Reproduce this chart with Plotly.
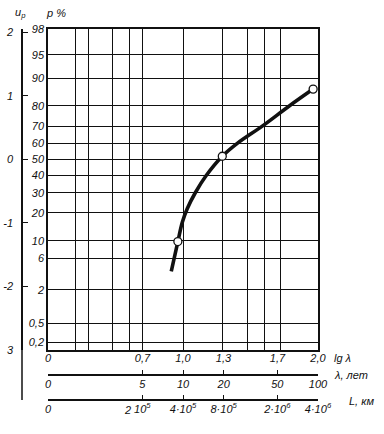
import math
from statistics import NormalDist
import plotly.graph_objects as go

# ---- data ----
p_ticks = [98, 95, 90, 80, 70, 60, 50, 40, 30, 20, 10, 6, 2, 0.5, 0.2]
p_labels = ["98", "95", "90", "80", "70", "60", "50", "40", "30", "20", "10", "6", "2", "0,5", "0,2"]
u_ticks = [2, 1, 0, -1, -2, -3]
u_labels = ["2", "1", "0", "-1", "-2", "3"]
lg_ticks = [0, 0.7, 1.0, 1.3, 1.7, 2.0]
lg_labels = ["0", "0,7", "1,0", "1,3", "1,7", "2,0"]
lg_grid = [0.2, 0.3, 0.48, 0.6, 0.7, 1.0, 1.29, 1.48, 1.6, 1.72]
lam_ticks = [5, 10, 20, 50, 100]
lam_labels = ["5", "10", "20", "50", "100"]
L_labels = ["10<sup>5</sup>", "4·10<sup>5</sup>", "8·10<sup>5</sup>", "2·10<sup>6</sup>", "4·10<sup>6</sup>"]
L_extra_lam = 4
L_extra_label = "2"
curve_lg = [0.913, 0.962, 0.995, 1.032, 1.091, 1.172, 1.291, 1.402, 1.587, 1.787, 1.964]
curve_p = [3.9, 9.8, 16.1, 22, 30, 40, 52, 60, 70, 80, 86.6]
obs_lg = [0.962, 1.291, 1.964]
obs_p = [9.8, 52, 86.6]

nd = NormalDist()


def probit(p):
    return nd.inv_cdf(p / 100.0)


W, H = 384, 434
INK = "#111111"
FONT = dict(family="Liberation Sans, Arial, sans-serif", size=11, color=INK)


def it(s):
    return "<i>" + s + "</i>"


x0, x1 = 48 / W, 318 / W
y0, y1 = 1 - 350 / H, 1 - 29 / H
yr = [-3, probit(98)]

fig = go.Figure()
fig.add_trace(go.Scatter(
    x=curve_lg, y=[probit(p) for p in curve_p], mode="lines",
    line=dict(color=INK, width=3.6, shape="spline", smoothing=1.0),
    showlegend=False, hoverinfo="skip"))
fig.add_trace(go.Scatter(
    x=obs_lg, y=[probit(p) for p in obs_p], mode="markers",
    marker=dict(size=8, color="white", line=dict(color=INK, width=1.3)),
    showlegend=False, hoverinfo="skip"))

lam_lg = [math.log10(v) for v in lam_ticks]

fig.update_layout(
    width=W, height=H, margin=dict(l=0, r=0, t=0, b=0, autoexpand=False),
    paper_bgcolor="white", plot_bgcolor="white", font=FONT,
    xaxis=dict(domain=[x0, x1], range=[0, 2], anchor="y", automargin=False,
               tickmode="array", tickvals=lg_ticks, ticktext=[it(s) for s in lg_labels],
               showgrid=False, zeroline=False, showline=True, mirror=True,
               linecolor=INK, linewidth=1.5, ticks="", ticklabelstandoff=-3,
               minor=dict(tickmode="array", tickvals=lg_grid, showgrid=True,
                          gridcolor=INK, gridwidth=1, ticks="")),
    yaxis=dict(domain=[y0, y1], range=yr, anchor="x", automargin=False,
               tickmode="array", tickvals=[probit(p) for p in p_ticks],
               ticktext=[it(s) for s in p_labels],
               showgrid=True, gridcolor=INK, gridwidth=1, zeroline=False,
               showline=True, mirror=True, linecolor=INK, linewidth=1.5, ticks=""),
    yaxis2=dict(overlaying="y", anchor="free", position=22 / W, side="left",
                range=yr, tickmode="array", tickvals=u_ticks, automargin=False,
                ticktext=[it(s) for s in u_labels],
                showgrid=False, zeroline=False, showline=True, linecolor=INK,
                linewidth=1.5, ticks="inside", ticklen=5, tickcolor=INK,
                ticklabelstandoff=6),
    xaxis2=dict(overlaying="x", anchor="free", position=1 - 375 / H, side="bottom",
                range=[0, 2], tickmode="array", tickvals=[0] + lam_lg, automargin=False,
                ticktext=[it("0")] + [it(s) for s in lam_labels],
                showgrid=False, zeroline=False, showline=True, linecolor=INK,
                linewidth=1.5, ticks="inside", ticklen=4, tickcolor=INK,
                ticklabelstandoff=-1),
    xaxis3=dict(overlaying="x", anchor="free", position=1 - 400 / H, side="bottom",
                range=[0, 2], tickmode="array", tickvals=[0] + lam_lg, automargin=False,
                ticktext=[it("0")] + [it(s) for s in L_labels],
                showgrid=False, zeroline=False, showline=True, linecolor=INK,
                linewidth=1.5, ticks="inside", ticklen=4, tickcolor=INK,
                ticklabelstandoff=-1),
)

# dummy traces so overlay axes render
fig.add_trace(go.Scatter(x=[None], y=[None], yaxis="y2", showlegend=False))
fig.add_trace(go.Scatter(x=[None], y=[None], xaxis="x2", showlegend=False))
fig.add_trace(go.Scatter(x=[None], y=[None], xaxis="x3", showlegend=False))

# extension of the u_p scale line below the chart
fig.add_shape(type="line", xref="paper", yref="paper",
              x0=22 / W, x1=22 / W, y0=y0, y1=1 - 400 / H,
              line=dict(color=INK, width=1.5))

ann = [
    dict(text=it("lg λ"), x=332 / W, y=1 - 358 / H, xanchor="left"),
    dict(text=it("λ, лет"), x=332 / W, y=1 - 375 / H, xanchor="left"),
    dict(text=it("L, км"), x=347 / W, y=1 - 401 / H, xanchor="left"),
    dict(text=it("u<sub>p</sub>"), x=20 / W, y=1 - 13 / H, xanchor="center"),
    dict(text=it("p %"), x=56 / W, y=1 - 13 / H, xanchor="center"),
]
for a in ann:
    fig.add_annotation(xref="paper", yref="paper", yanchor="middle",
                       showarrow=False, font=FONT, **a)
fig.add_annotation(xref="x", yref="paper", x=math.log10(L_extra_lam), y=1 - 410 / H,
                   text=it(L_extra_label), showarrow=False, font=FONT, yanchor="middle",
                   xshift=-2)

fig.write_html("out.html", config={"displayModeBar": False},
               post_script="document.body.style.margin='0';document.body.style.overflow='hidden';")
